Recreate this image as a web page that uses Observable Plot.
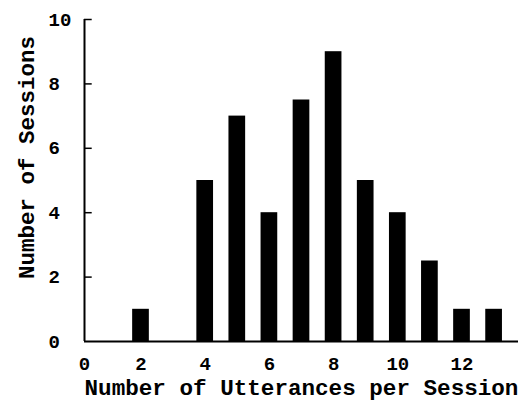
<!DOCTYPE html>
<html>
<head>
<meta charset="utf-8">
<script src="https://cdn.jsdelivr.net/npm/d3@7"></script>
<script src="https://cdn.jsdelivr.net/npm/@observablehq/plot@0.6"></script>
<style>
  html, body { margin: 0; padding: 0; background: #fff; }
  svg { display: block; }
</style>
</head>
<body>
<div id="chart"></div>
<script>
const utterances = [2, 4, 5, 6, 7, 8, 9, 10, 11, 12, 13];
const sessions = [1, 5, 7, 4, 7.5, 9, 5, 4, 2.5, 1, 1];
const xTicks = [0, 2, 4, 6, 8, 10, 12];
const yTicks = [0, 2, 4, 6, 8, 10];
const xTitle = "Number of Utterances per Session";
const yTitle = "Number of Sessions";

const data = utterances.map((u, i) => ({u, n: sessions[i]}));
const xMin = 0.24, xMax = 13.76;
const half = 0.26;
const font = "'Liberation Mono', 'Courier New', monospace";

const chart = Plot.plot({
  width: 520,
  height: 403,
  marginLeft: 84,
  marginRight: 2,
  marginTop: 19,
  marginBottom: 62,
  style: {fontFamily: font, background: "#fff", color: "#000"},
  x: {domain: [xMin, xMax], axis: null},
  y: {domain: [0, 10], axis: null},
  marks: [
    Plot.rectY(data, {x1: d => d.u - half, x2: d => d.u + half, y1: 0, y2: "n", fill: "#000"}),
    Plot.ruleY([0], {x1: xMin, x2: xMax, stroke: "#000", strokeWidth: 2}),
    Plot.ruleX([xMin], {y1: 0, y2: 10, stroke: "#000", strokeWidth: 2}),
    Plot.ruleY(yTicks.slice(1), {y: d => d, x1: xMin, x2: xMin + 0.24, stroke: "#000", strokeWidth: 1.5}),
    Plot.text(yTicks, {y: d => d, x: xMin, dx: -36, text: d => String(d), textAnchor: "start", fontSize: 19, fontWeight: "bold", fill: "#000"}),
    Plot.text(xTicks, {x: d => Math.max(d, xMin), y: 0, dy: 22, text: d => String(d), textAnchor: "middle", fontSize: 19, fontWeight: "bold", fill: "#000"}),
    Plot.text([xTitle], {frameAnchor: "bottom", dy: 53, text: d => d, textAnchor: "middle", fontSize: 22.6, fontWeight: "bold", fill: "#000"}),
    Plot.text([yTitle], {frameAnchor: "left", dx: -58, dy: -23, rotate: -90, text: d => d, textAnchor: "middle", fontSize: 22.5, fontWeight: "bold", fill: "#000"})
  ]
});
document.getElementById("chart").appendChild(chart);
</script>
</body>
</html>
